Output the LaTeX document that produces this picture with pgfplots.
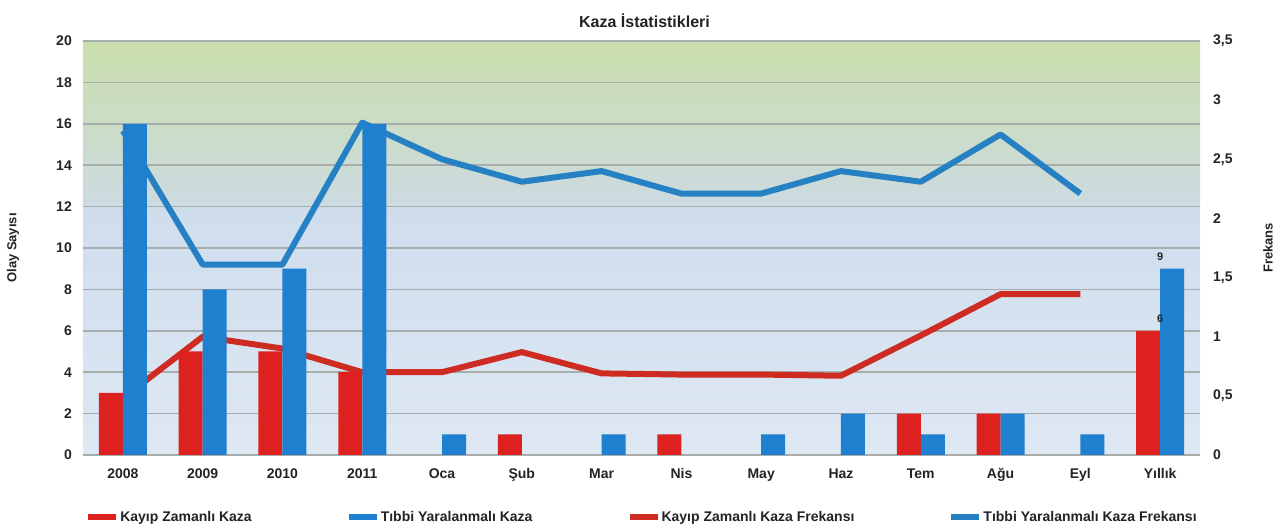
\documentclass[border=0pt]{standalone}
\usepackage{pgfplots}
\pgfplotsset{compat=1.18}
\usepackage{fontspec}
\setmainfont{Liberation Sans}
\definecolor{redbar}{RGB}{221,33,30}
\definecolor{bluebar}{RGB}{30,128,206}
\definecolor{redline}{RGB}{206,44,34}
\definecolor{blueline}{RGB}{38,128,196}
\definecolor{gridc}{RGB}{168,172,170}
\definecolor{txt}{RGB}{35,35,35}
\definecolor{bgA}{RGB}{222,232,243}
\definecolor{bgB}{RGB}{207,221,237}
\definecolor{bgC}{RGB}{204,219,222}
\definecolor{bgD}{RGB}{202,222,172}
\pgfdeclareverticalshading{bgshade}{100bp}{color(0bp)=(bgA); color(25bp)=(bgA); color(54bp)=(bgB); color(56bp)=(bgC); color(75bp)=(bgD); color(100bp)=(bgD)}
\newcommand\tickfont{\fontsize{14}{16}\selectfont\bfseries}
\newcommand\legfont{\fontsize{14}{16}\selectfont\bfseries}
\newcommand\titlefont{\fontsize{16}{18}\selectfont\bfseries}
\newcommand\labfont{\fontsize{13}{15}\selectfont\bfseries}
\newcommand\datafont{\fontsize{11}{13}\selectfont\bfseries}
\pgfplotsset{
  base/.style={
    width=1117pt, height=414pt, scale only axis,
    at={(0pt,0pt)}, anchor=south west,
    xmin=-0.5, xmax=13.5,
    /pgf/number format/assume math mode=true,
  }
}
\begin{document}
\begin{tikzpicture}
\path[use as bounding box] (-83pt,-74pt) rectangle (1199pt,455pt);
% background, grid, left ticks, category labels
\begin{axis}[base,
  ymin=0, ymax=20,
  ytick={0,2,4,6,8,10,12,14,16,18,20},
  yticklabels={0,2,4,6,8,10,12,14,16,18,20},
  xtick={0,1,2,3,4,5,6,7,8,9,10,11,12,13},
  xticklabels={2008,2009,2010,2011,Oca,Şub,Mar,Nis,May,Haz,Tem,Ağu,Eyl,Yıllık},
  axis line style={draw=none},
  major tick length=0pt,
  tick style={draw=none},
  ymajorgrids, grid style={gridc, line width=1.5pt},
  axis background/.style={shading=bgshade},
  yticklabel style={inner sep=0pt, xshift=-11pt, font=\tickfont, text=txt},
  xticklabel style={inner sep=0pt, yshift=-13pt, text height=10pt, text depth=3pt, font=\tickfont, text=txt},
  every axis title/.style={at={(0.5,1)}, anchor=center, xshift=3pt, yshift=20pt, font=\titlefont, text=txt},
  title={Kaza İstatistikleri},
  every axis y label/.style={at={(0,0.5)}, xshift=-70pt, rotate=90, anchor=center, font=\labfont, text=txt},
  ylabel={Olay Sayısı},
]
\end{axis}
% frequency lines on the right axis
\begin{axis}[base,
  ymin=0, ymax=3.5,
  hide x axis,
  axis y line*=right,
  axis line style={draw=none},
  tick style={draw=none}, major tick length=0pt,
  ytick={0,0.5,1,1.5,2,2.5,3,3.5},
  yticklabels={0,{0,5},1,{1,5},2,{2,5},3,{3,5}},
  yticklabel style={inner sep=0pt, xshift=13pt, font=\tickfont, text=txt},
  every axis y label/.style={at={(1,0.5)}, xshift=68pt, rotate=90, anchor=center, font=\labfont, text=txt},
  ylabel={Frekans},
]
\addplot[redline, line width=6pt, line join=round] coordinates {
  (0,0.48) (1,1.0) (2,0.9) (3,0.7) (4,0.7) (5,0.87) (6,0.69) (7,0.68) (8,0.68) (9,0.67) (10,1.01) (11,1.36) (12,1.36)};
\addplot[blueline, line width=6pt, line join=round] coordinates {
  (0,2.74) (1,1.61) (2,1.61) (3,2.81) (4,2.5) (5,2.31) (6,2.4) (7,2.21) (8,2.21) (9,2.4) (10,2.31) (11,2.71) (12,2.21)};
\end{axis}
% bars and legend
\begin{axis}[base,
  ymin=0, ymax=20,
  hide axis,
  legend columns=4,
  legend style={at={(0.5,0)}, anchor=center, yshift=-62pt, draw=none, fill=none,
    font=\legfont, text=txt,
    /tikz/every even column/.append style={column sep=93pt},
    nodes={inner sep=1pt}},
  legend image code/.code={\draw[#1, line width=6pt] (0pt,0pt) -- (28pt,0pt);},
]
\addplot[ybar, bar width=24pt, bar shift=-12pt, fill=redbar, draw=none, forget plot] coordinates {
  (0,3) (1,5) (2,5) (3,4) (5,1) (7,1) (10,2) (11,2) (13,6)};
\addplot[ybar, bar width=24pt, bar shift=12pt, fill=bluebar, draw=none, forget plot] coordinates {
  (0,16) (1,8) (2,9) (3,16) (4,1) (6,1) (8,1) (9,2) (10,1) (11,2) (12,1) (13,9)};
\addplot[ybar, bar width=24pt, bar shift=-12pt, draw=none, fill=none, forget plot,
  nodes near coords, every node near coord/.append style={font=\datafont, text=txt, yshift=5pt}] coordinates {(13,6)};
\addplot[ybar, bar width=24pt, bar shift=12pt, draw=none, fill=none, forget plot,
  nodes near coords, every node near coord/.append style={font=\datafont, text=txt, yshift=5pt}] coordinates {(13,9)};
\addlegendimage{redbar}
\addlegendentry{Kayıp Zamanlı Kaza}
\addlegendimage{bluebar}
\addlegendentry{Tıbbi Yaralanmalı Kaza}
\addlegendimage{redline}
\addlegendentry{Kayıp Zamanlı Kaza Frekansı}
\addlegendimage{blueline}
\addlegendentry{Tıbbi Yaralanmalı Kaza Frekansı}
\end{axis}
\end{tikzpicture}
\end{document}
